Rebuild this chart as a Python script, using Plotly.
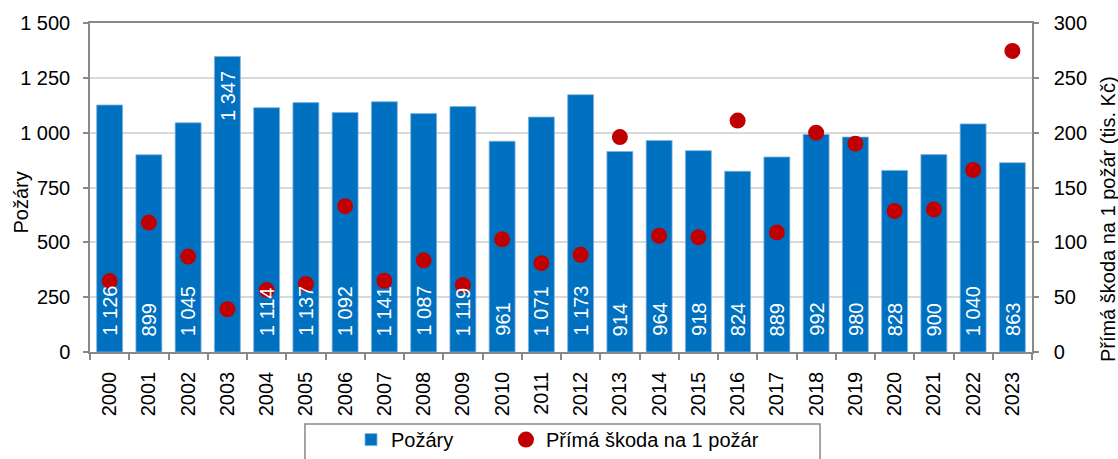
import plotly.graph_objects as go

years = [str(y) for y in range(2000, 2024)]
pozary = [1126, 899, 1045, 1347, 1114, 1137, 1092, 1141, 1087, 1119, 961, 1071,
          1173, 914, 964, 918, 824, 889, 992, 980, 828, 900, 1040, 863]
skoda = [64.7, 118, 87, 39, 56.5, 62, 133, 65, 83.6, 61, 102.7, 81,
         88.7, 196, 106, 104.6, 211, 109, 200, 190, 128.6, 130, 166, 274.5]
label_at_end = ["2003"]

name_bar = "Požáry"
name_dot = "Přímá škoda na 1 požár"
y1_title = "Požáry"
y2_title = "Přímá škoda na 1 požár (tis. Kč)"

FONT = "Liberation Sans, Arial, sans-serif"
AXC = "#898989"
GRID = "#D9D9D9"


def fmt(v):
    return f"{v:,}".replace(",", " ")


fig = go.Figure()
fig.add_trace(go.Bar(
    x=years, y=pozary, name=name_bar,
    marker=dict(color="#0070C0", line=dict(color="#7FB2DE", width=0.8)),
    yaxis="y", legend="legend",
))
fig.add_trace(go.Scatter(
    x=years, y=skoda, name=name_dot, mode="markers",
    marker=dict(color="#C00000", size=16, symbol="circle"),
    yaxis="y2", legend="legend2",
))

annotations = []
for i, (yr, v) in enumerate(zip(years, pozary)):
    if yr in label_at_end:
        annotations.append(dict(x=i, y=v, xref="x", yref="y", text=fmt(v),
                                textangle=-90, showarrow=False, yanchor="top",
                                yshift=-12,
                                font=dict(family=FONT, size=20, color="white")))
    else:
        annotations.append(dict(x=i, y=0, xref="x", yref="y", text=fmt(v),
                                textangle=-90, showarrow=False, yanchor="bottom",
                                yshift=14,
                                font=dict(family=FONT, size=20, color="white")))

annotations.append(dict(text=y1_title, x=-0.073, y=0.455, xref="paper", yref="paper",
                        textangle=-90, showarrow=False, xanchor="center", yanchor="middle",
                        font=dict(family=FONT, size=20, color="black")))
annotations.append(dict(text=y2_title, x=1.0807, y=0.404, xref="paper", yref="paper",
                        textangle=-90, showarrow=False, xanchor="center", yanchor="middle",
                        font=dict(family=FONT, size=20, color="black")))

leg_common = dict(orientation="h", y=-0.207, yanchor="top", xanchor="left",
                  font=dict(family=FONT, size=20, color="black"),
                  bgcolor="rgba(0,0,0,0)", borderwidth=0, itemwidth=30)

fig.update_layout(
    width=1118, height=459,
    margin=dict(l=90, r=86, t=23, b=107, autoexpand=False),
    paper_bgcolor="white", plot_bgcolor="white",
    separators=". ",
    font=dict(family=FONT, size=20, color="black"),
    bargap=0.34,
    showlegend=True,
    legend=dict(x=0.2771, **leg_common),
    legend2=dict(x=0.4416, **leg_common),
    xaxis=dict(type="category", range=[-0.5, len(years) - 0.5], autorange=False,
               automargin=False,
               tickangle=-90, ticks="outside", ticklen=6,
               tickcolor=AXC, tickwidth=1.5, tickson="boundaries",
               showline=True, linecolor=AXC, linewidth=1.5, mirror=True,
               showgrid=False, ticklabelstandoff=10,
               tickfont=dict(family=FONT, size=20, color="black")),
    yaxis=dict(range=[0, 1500], autorange=False, dtick=250, tickformat=",d", ticks="outside",
               automargin=False,
               ticklen=5, tickcolor=AXC, tickwidth=1.5,
               showline=True, linecolor=AXC, linewidth=1.5, mirror=True,
               showgrid=True, gridcolor=GRID, gridwidth=1.5, zeroline=False,
               ticklabelstandoff=9,
               tickfont=dict(family=FONT, size=20, color="black")),
    yaxis2=dict(range=[0, 300], autorange=False, dtick=50, overlaying="y", side="right",
                automargin=False,
                ticks="outside", ticklen=5, tickcolor=AXC, tickwidth=1.5,
                showline=True, linecolor=AXC, linewidth=1.5,
                showgrid=False, zeroline=False, ticklabelstandoff=11,
                tickfont=dict(family=FONT, size=20, color="black")),
    annotations=annotations,
    shapes=[dict(type="rect", xref="paper", yref="paper",
                 x0=0.2282, x1=0.775, y0=-0.2188, y1=-0.42,
                 line=dict(color=AXC, width=1.5), fillcolor="rgba(0,0,0,0)",
                 layer="above")],
)

fig.write_html("out.html", config={"displayModeBar": False},
               post_script="document.body.style.margin='0';document.body.style.overflow='hidden';")
